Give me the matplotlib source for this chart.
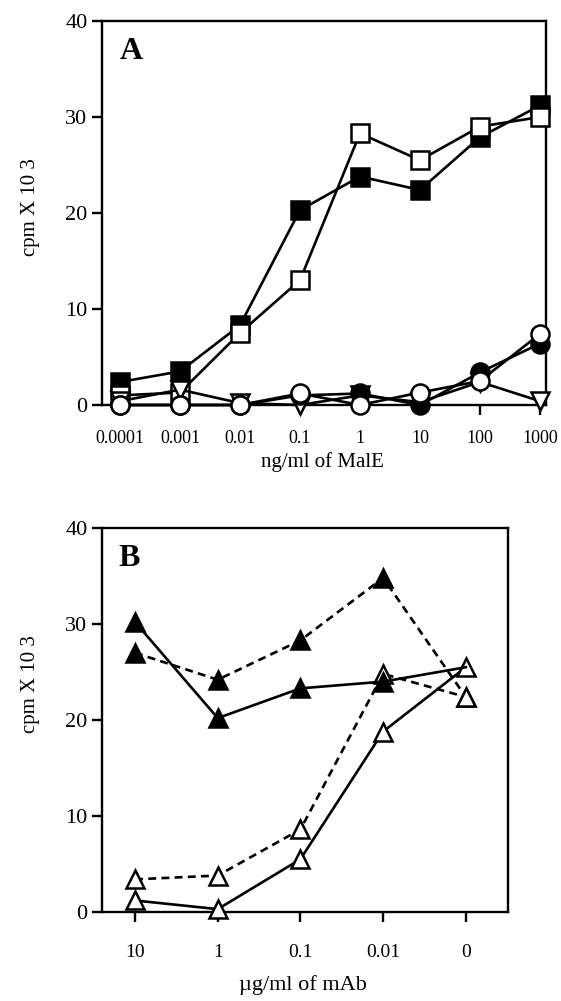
import matplotlib
matplotlib.use('Agg')
import matplotlib.pyplot as plt
import numpy as np

plt.rcParams['font.family'] = ['Liberation Serif', 'DejaVu Serif']

# panel A: ng/ml of MalE
conc_a = ['0.0001', '0.001', '0.01', '0.1', '1', '10', '100', '1000']
filled_sq = [2.4, 3.5, 8.3, 20.3, 23.8, 22.4, 27.9, 31.2]
open_sq = [1.0, 1.3, 7.5, 13.0, 28.3, 25.5, 29.0, 30.0]
open_tri_down = [0.4, 1.6, 0.2, 0.0, 1.0, 0.3, 2.4, 0.4]
filled_circ = [0.0, 0.0, 0.0, 1.0, 1.2, 0.0, 3.4, 6.4]
open_circ = [0.0, 0.0, 0.0, 1.2, 0.0, 1.3, 2.5, 7.4]

# panel B: ug/ml of mAb
conc_b = ['10', '1', '0.1', '0.01', '0']
filled_solid = [30.2, 20.2, 23.3, 24.0, 25.5]
filled_dash = [27.0, 24.2, 28.3, 34.8, 22.4]
open_solid = [1.2, 0.3, 5.5, 18.8, 25.5]
open_dash = [3.4, 3.8, 8.6, 24.8, 22.4]

fig = plt.figure(figsize=(5.61, 10.01), dpi=100)
axA = fig.add_axes([0.1818, 0.5954, 0.7914, 0.3836])
axB = fig.add_axes([0.1818, 0.0889, 0.7237, 0.3836])

lw = 1.9
ms = 13

def style(ax):
    for s in ax.spines.values():
        s.set_linewidth(1.7)
    ax.tick_params(direction='out', length=7, width=1.7)
    ax.set_ylim(0, 40)
    ax.set_yticks([0, 10, 20, 30, 40])
    for lab in ax.get_yticklabels():
        lab.set_fontsize(16)

xa = np.arange(len(conc_a))
kw = dict(color='black', lw=lw, mec='black', mew=1.8, clip_on=False)
axA.plot(xa, filled_sq, marker='s', ms=ms, mfc='black', zorder=3, **kw)
axA.plot(xa, open_sq, marker='s', ms=ms, mfc='white', zorder=4, **kw)
axA.plot(xa, open_tri_down, marker='v', ms=ms, mfc='white', zorder=5, **kw)
axA.plot(xa, filled_circ, marker='o', ms=ms, mfc='black', zorder=6, **kw)
axA.plot(xa, open_circ, marker='o', ms=ms, mfc='white', zorder=7, **kw)
axA.set_xlim(-0.3, 7.1)
axA.set_xticks(xa)
axA.set_xticklabels(conc_a, fontsize=13)
style(axA)
axA.tick_params(axis='x', pad=11)
axA.text(0.04, 0.92, 'A', transform=axA.transAxes, fontsize=23, fontweight='bold',
         va='center', ha='left')

xb = np.arange(len(conc_b))
axB.plot(xb, filled_dash, ls=(0, (3, 2)), marker='^', ms=ms, mfc='black',
         markevery=[0, 1, 2, 3], zorder=4, **kw)
axB.plot(xb, open_dash, ls=(0, (3, 2)), marker='^', ms=ms, mfc='white', zorder=3, **kw)
axB.plot(xb, filled_solid, ls='-', marker='^', ms=ms, mfc='black',
         markevery=[0, 1, 2, 3], zorder=5, **kw)
axB.plot(xb, open_solid, ls='-', marker='^', ms=ms, mfc='white', zorder=3, **kw)
axB.plot(xb[-1:], filled_dash[-1:], ls='none', marker='^', ms=ms, mfc='white',
         zorder=6, **kw)
axB.set_xlim(-0.4, 4.51)
axB.set_xticks(xb)
axB.set_xticklabels(conc_b, fontsize=14)
style(axB)
axB.tick_params(axis='x', pad=16)
axB.text(0.04, 0.92, 'B', transform=axB.transAxes, fontsize=23, fontweight='bold',
         va='center', ha='left')

fig.text(0.055, 1 - 207 / 1001, 'cpm X 10 3', rotation=90, fontsize=15,
         ha='center', va='center')
fig.text(0.055, 1 - 684 / 1001, 'cpm X 10 3', rotation=90, fontsize=15,
         ha='center', va='center')
fig.text(322 / 561, 1 - 462 / 1001, 'ng/ml of MalE', fontsize=15, ha='center', va='center')
fig.text(303 / 561, 1 - 985 / 1001, '\u00b5g/ml of mAb', fontsize=16, ha='center', va='center')

fig.savefig('out.png', dpi=100)
